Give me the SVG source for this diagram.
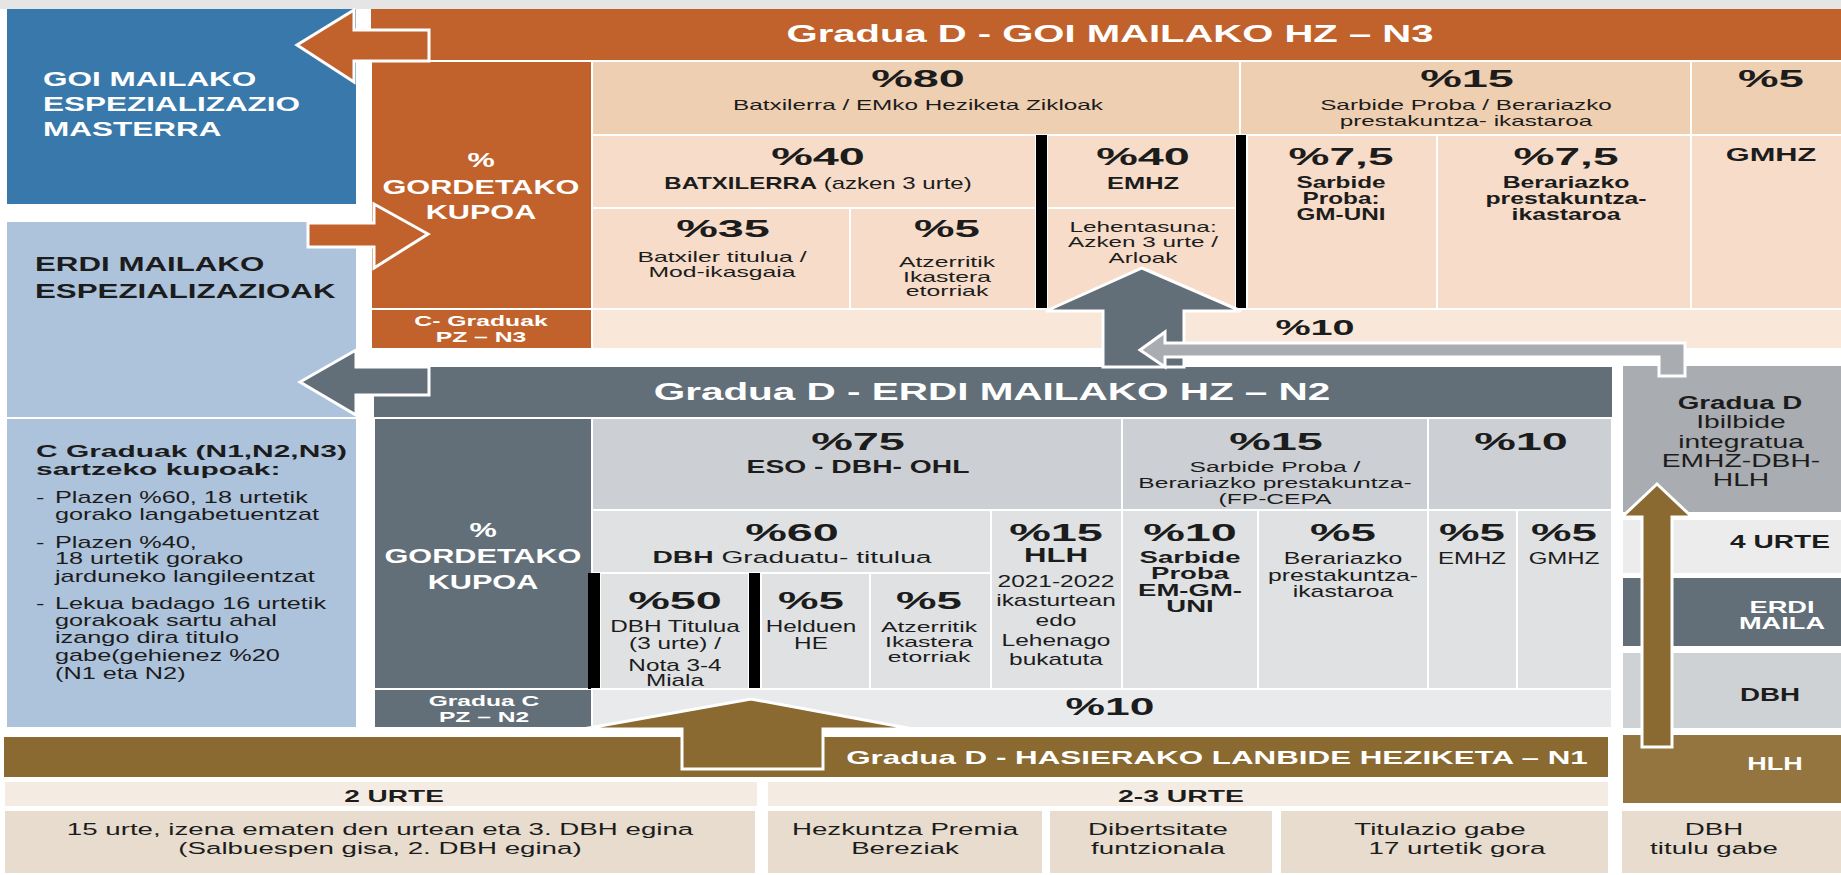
<svg xmlns="http://www.w3.org/2000/svg" width="1841" height="875" viewBox="0 0 1841 875">
<defs>
<style>
text{font-family:"Liberation Sans",Arial,Helvetica,sans-serif;fill:#1c1c1c}
.m{text-anchor:middle}
.b{font-weight:700}
.w{fill:#fff}
.pc{font-size:24px;font-weight:700}
.s15{font-size:15px}
.s16{font-size:16px}
.s17{font-size:17px}
.s18{font-size:18px}
.s19{font-size:19px}
.s20{font-size:20px}
.s21{font-size:21px}
.s22{font-size:22px}
.s23{font-size:23px}
.cell{stroke:#fff;stroke-width:2}
.arr{stroke:#fff;stroke-width:3;stroke-linejoin:miter}
.or{fill:#c1622c}
.pk1{fill:#efcfb1}
.pk2{fill:#f6dcc9}
.pk3{fill:#f9e7da}
.sl{fill:#626f78}
.gy1{fill:#ccd0d4}
.gy2{fill:#dfe1e3}
.gy3{fill:#e9eaeb}
.lg{fill:#a9acb0}
.br{fill:#8a6a31}
.be1{fill:#f4ece2}
.be2{fill:#e7dccd}
.bk{fill:#000}
</style>
</defs>
<rect width="1841" height="875" fill="#fff"/>
<rect width="1841" height="9" fill="#e5e5e5"/>

<!-- Left column -->
<g id="goi-masterra">
<rect x="7" y="9" width="349" height="195" fill="#3878aa"/>
<g transform="translate(43 0) scale(1.5 1)"><text class="b w s21" y="86.5">GOI MAILAKO</text><text class="b w s21" y="111.5">ESPEZIALIZAZIO</text><text class="b w s21" y="136.5">MASTERRA</text></g>
</g>
<g id="erdi-espezializazioak">
<rect x="7" y="222" width="349" height="195" fill="#adc3dc"/>
<g transform="translate(35 0) scale(1.49 1)"><text class="b s21" y="271.5">ERDI MAILAKO</text><text class="b s21" y="298.5">ESPEZIALIZAZIOAK</text></g>
</g>
<g id="c-graduak-kupoak">
<rect x="7" y="419" width="349" height="308" fill="#adc3dc"/>
<g transform="translate(36 0) scale(1.76 1)"><text class="b s17" y="457">C Graduak (N1,N2,N3)</text><text class="b s17" y="475">sartzeko kupoak:</text></g>
<g transform="translate(36 0) scale(1.58 1)"><text class="s16" y="503">-</text><text class="s16" y="548">-</text><text class="s16" y="609">-</text></g>
<g transform="translate(55 0) scale(1.58 1)">
<text class="s16" y="503">Plazen %60, 18 urtetik</text>
<text class="s16" y="520">gorako langabetuentzat</text>
<text class="s16" y="548">Plazen %40,</text>
<text class="s16" y="564">18 urtetik gorako</text>
<text class="s16" y="582">jarduneko langileentzat</text>
<text class="s16" y="609">Lekua badago 16 urtetik</text>
<text class="s16" y="626">gorakoak sartu ahal</text>
<text class="s16" y="643">izango dira titulo</text>
<text class="s16" y="661">gabe(gehienez %20</text>
<text class="s16" y="679">(N1 eta N2)</text>
</g>
</g>

<!-- N3 -->
<g id="n3-header">
<rect x="371" y="9" width="1470" height="51" class="or"/>
<text class="b w s23 m" transform="translate(1110 42) scale(1.74 1)">Gradua D - GOI MAILAKO HZ – N3</text>
</g>
<g id="n3-kupoa">
<rect x="371" y="61" width="221" height="248" class="or cell"/>
<g transform="translate(481 0) scale(1.46 1)"><text class="b w s21 m" y="167.5">%</text><text class="b w s21 m" y="194.5">GORDETAKO</text><text class="b w s21 m" y="219.5">KUPOA</text></g>
</g>
<g id="n3-c-graduak">
<rect x="371" y="309" width="221" height="40" class="or cell"/>
<g transform="translate(481 0) scale(1.65 1)"><text class="b w s15 m" y="326">C- Graduak</text><text class="b w s15 m" y="342">PZ – N3</text></g>
</g>
<g id="n3-80">
<rect x="592" y="61" width="648" height="74" class="pk1 cell"/>
<text class="pc m" transform="translate(918 87) scale(1.95 1)">%80</text>
<text class="s15 m" transform="translate(918 110) scale(1.62 1)">Batxilerra / EMko Heziketa Zikloak</text>
</g>
<g id="n3-15">
<rect x="1240" y="61" width="451" height="74" class="pk1 cell"/>
<text class="pc m" transform="translate(1467 87) scale(1.95 1)">%15</text>
<g transform="translate(1466 0) scale(1.62 1)"><text class="s15 m" y="110">Sarbide Proba / Berariazko</text><text class="s15 m" y="126">prestakuntza- ikastaroa</text></g>
</g>
<g id="n3-5">
<rect x="1691" y="61" width="152" height="74" class="pk1 cell"/>
<text class="pc m" transform="translate(1771 87) scale(1.9 1)">%5</text>
</g>
<g id="n3-40-batxilerra">
<rect x="592" y="135" width="444" height="73" class="pk2 cell"/>
<text class="pc m" transform="translate(818 165) scale(1.95 1)">%40</text>
<text class="s16 m" transform="translate(818 189) scale(1.5 1)"><tspan class="b">BATXILERRA</tspan> (azken 3 urte)</text>
</g>
<g id="n3-35">
<rect x="592" y="208" width="258" height="101" class="pk2 cell"/>
<text class="pc m" transform="translate(723 237) scale(1.95 1)">%35</text>
<g transform="translate(722 0) scale(1.65 1)"><text class="s15 m" y="262">Batxiler titulua /</text><text class="s15 m" y="277">Mod-ikasgaia</text></g>
</g>
<g id="n3-5-atzerritik">
<rect x="850" y="208" width="186" height="101" class="pk2 cell"/>
<text class="pc m" transform="translate(947 237) scale(1.9 1)">%5</text>
<g transform="translate(947 0) scale(1.65 1)"><text class="s15 m" y="267">Atzerritik</text><text class="s15 m" y="282">Ikastera</text><text class="s15 m" y="296">etorriak</text></g>
</g>
<g id="n3-40-emhz">
<rect x="1047" y="135" width="189" height="73" class="pk2 cell"/>
<rect x="1047" y="208" width="189" height="101" class="pk2 cell"/>
<rect x="1036" y="135" width="11" height="175" class="bk"/>
<rect x="1236" y="135" width="11" height="175" class="bk"/>
<text class="pc m" transform="translate(1143 165) scale(1.95 1)">%40</text>
<text class="b s16 m" transform="translate(1143 189) scale(1.59 1)">EMHZ</text>
<g transform="translate(1143 0) scale(1.62 1)"><text class="s15 m" y="232">Lehentasuna:</text><text class="s15 m" y="247">Azken 3 urte /</text><text class="s15 m" y="263">Arloak</text></g>
</g>
<g id="n3-75-sarbide">
<rect x="1247" y="135" width="190" height="174" class="pk2 cell"/>
<text class="pc m" transform="translate(1341 165) scale(1.92 1)">%7,5</text>
<g transform="translate(1341 0) scale(1.52 1)"><text class="b s16 m" y="188">Sarbide</text><text class="b s16 m" y="204">Proba:</text><text class="b s16 m" y="220">GM-UNI</text></g>
</g>
<g id="n3-75-berariazko">
<rect x="1437" y="135" width="254" height="174" class="pk2 cell"/>
<text class="pc m" transform="translate(1566 165) scale(1.92 1)">%7,5</text>
<g transform="translate(1566 0) scale(1.55 1)"><text class="b s16 m" y="188">Berariazko</text><text class="b s16 m" y="204">prestakuntza-</text><text class="b s16 m" y="220">ikastaroa</text></g>
</g>
<g id="n3-gmhz">
<rect x="1691" y="135" width="152" height="174" class="pk2 cell"/>
<text class="b s19 m" transform="translate(1771 161) scale(1.62 1)">GMHZ</text>
</g>
<g id="n3-10">
<rect x="592" y="309" width="1251" height="40" class="pk3 cell"/>
<text class="b s22 m" transform="translate(1315 335) scale(1.8 1)">%10</text>
</g>

<!-- N2 -->
<g id="n2-header">
<rect x="374" y="367" width="1238" height="51" class="sl"/>
<text class="b w s23 m" transform="translate(992 400) scale(1.76 1)">Gradua D - ERDI MAILAKO HZ – N2</text>
</g>
<g id="n2-kupoa">
<rect x="374" y="418" width="218" height="271" class="sl cell"/>
<g transform="translate(483 0) scale(1.46 1)"><text class="b w s21 m" y="537.5">%</text><text class="b w s21 m" y="563.5">GORDETAKO</text><text class="b w s21 m" y="589.5">KUPOA</text></g>
</g>
<g id="n2-gradua-c">
<rect x="374" y="689" width="218" height="39" class="sl cell"/>
<g transform="translate(484 0) scale(1.64 1)"><text class="b w s15 m" y="706.5">Gradua C</text><text class="b w s15 m" y="722.5">PZ – N2</text></g>
</g>
<g id="n2-75">
<rect x="592" y="418" width="530" height="92" class="gy1 cell"/>
<text class="pc m" transform="translate(858 450) scale(1.95 1)">%75</text>
<text class="b s18 m" transform="translate(858 473) scale(1.57 1)">ESO - DBH- OHL</text>
</g>
<g id="n2-15">
<rect x="1122" y="418" width="306" height="92" class="gy1 cell"/>
<text class="pc m" transform="translate(1276 450) scale(1.95 1)">%15</text>
<g transform="translate(1275 0) scale(1.64 1)"><text class="s15 m" y="472">Sarbide Proba /</text><text class="s15 m" y="488">Berariazko prestakuntza-</text><text class="s15 m" y="504">(FP-CEPA</text></g>
</g>
<g id="n2-10">
<rect x="1428" y="418" width="184" height="92" class="gy1 cell"/>
<text class="pc m" transform="translate(1521 450) scale(1.95 1)">%10</text>
</g>
<g id="n2-60">
<rect x="592" y="510" width="399" height="63" class="gy2 cell"/>
<text class="pc m" transform="translate(792 541) scale(1.95 1)">%60</text>
<text class="s17 m" transform="translate(792 563) scale(1.66 1)"><tspan class="b">DBH</tspan> Graduatu- titulua</text>
</g>
<g id="n2-50">
<rect x="600" y="573" width="149" height="116" class="gy2 cell"/>
<rect x="588" y="573" width="12" height="116" class="bk"/>
<rect x="749" y="573" width="12" height="116" class="bk"/>
<text class="pc m" transform="translate(675 609) scale(1.95 1)">%50</text>
<g transform="translate(675 0) scale(1.52 1)"><text class="s16 m" y="632">DBH Titulua</text><text class="s16 m" y="649">(3 urte) /</text><text class="s16 m" y="671">Nota 3-4</text><text class="s16 m" y="686">Miala</text></g>
</g>
<g id="n2-5-helduen">
<rect x="761" y="573" width="109" height="116" class="gy2 cell"/>
<text class="pc m" transform="translate(811 609) scale(1.9 1)">%5</text>
<g transform="translate(811 0) scale(1.52 1)"><text class="s16 m" y="632">Helduen</text><text class="s16 m" y="649">HE</text></g>
</g>
<g id="n2-5-atzerritik">
<rect x="870" y="573" width="121" height="116" class="gy2 cell"/>
<text class="pc m" transform="translate(929 609) scale(1.9 1)">%5</text>
<g transform="translate(929 0) scale(1.65 1)"><text class="s15 m" y="632">Atzerritik</text><text class="s15 m" y="647">Ikastera</text><text class="s15 m" y="662">etorriak</text></g>
</g>
<g id="n2-15-hlh">
<rect x="991" y="510" width="131" height="179" class="gy2 cell"/>
<text class="pc m" transform="translate(1056 541) scale(1.95 1)">%15</text>
<text class="b s20 m" transform="translate(1056 562) scale(1.56 1)">HLH</text>
<g transform="translate(1056 0) scale(1.53 1)"><text class="s16 m" y="587">2021-2022</text><text class="s16 m" y="606">ikasturtean</text><text class="s16 m" y="626">edo</text><text class="s16 m" y="646">Lehenago</text><text class="s16 m" y="665">bukatuta</text></g>
</g>
<g id="n2-10-sarbide">
<rect x="1122" y="510" width="136" height="179" class="gy2 cell"/>
<text class="pc m" transform="translate(1190 541) scale(1.95 1)">%10</text>
<g transform="translate(1190 0) scale(1.72 1)"><text class="b s16 m" y="563">Sarbide</text><text class="b s16 m" y="579">Proba</text><text class="b s16 m" y="596">EM-GM-</text><text class="b s16 m" y="612">UNI</text></g>
</g>
<g id="n2-5-berariazko">
<rect x="1258" y="510" width="170" height="179" class="gy2 cell"/>
<text class="pc m" transform="translate(1343 541) scale(1.9 1)">%5</text>
<g transform="translate(1343 0) scale(1.55 1)"><text class="s16 m" y="564">Berariazko</text><text class="s16 m" y="581">prestakuntza-</text><text class="s16 m" y="597">ikastaroa</text></g>
</g>
<g id="n2-5-emhz">
<rect x="1428" y="510" width="89" height="179" class="gy2 cell"/>
<text class="pc m" transform="translate(1472 541) scale(1.9 1)">%5</text>
<text class="s16 m" transform="translate(1472 564) scale(1.5 1)">EMHZ</text>
</g>
<g id="n2-5-gmhz">
<rect x="1517" y="510" width="95" height="179" class="gy2 cell"/>
<text class="pc m" transform="translate(1564 541) scale(1.9 1)">%5</text>
<text class="s16 m" transform="translate(1564 564) scale(1.5 1)">GMHZ</text>
</g>
<g id="n2-10-bottom">
<rect x="592" y="689" width="1020" height="39" class="gy3 cell"/>
<text class="pc m" transform="translate(1110 715) scale(1.85 1)">%10</text>
</g>

<!-- Right column -->
<g id="ibilbide-integratua">
<rect x="1623" y="366" width="218" height="146" class="lg"/>
<text class="b s18 m" transform="translate(1740 409) scale(1.54 1)">Gradua D</text>
<g transform="translate(1741 0) scale(1.57 1)"><text class="s18 m" y="428">Ibilbide</text><text class="s18 m" y="448">integratua</text><text class="s18 m" y="467">EMHZ-DBH-</text><text class="s18 m" y="486">HLH</text></g>
</g>
<g id="urte-4">
<rect x="1623" y="520" width="218" height="53" fill="#ececec"/>
<text class="b s18 m" transform="translate(1780 548) scale(1.56 1)">4 URTE</text>
</g>
<g id="erdi-maila">
<rect x="1623" y="578" width="218" height="68" class="sl"/>
<g transform="translate(1782 0) scale(1.6 1)"><text class="b w s17 m" y="613">ERDI</text><text class="b w s17 m" y="629">MAILA</text></g>
</g>
<g id="dbh">
<rect x="1623" y="653" width="218" height="75" fill="#cfd2d5"/>
<text class="b s19 m" transform="translate(1770 701) scale(1.46 1)">DBH</text>
</g>
<g id="hlh">
<rect x="1623" y="735" width="218" height="68" fill="#94743f"/>
<text class="b w s18 m" transform="translate(1775 770) scale(1.5 1)">HLH</text>
</g>

<!-- N1 -->
<g id="n1-header">
<rect x="4" y="737" width="1604" height="40" class="br"/>
<text class="b w s19 m" transform="translate(1217 764) scale(1.65 1)">Gradua D - HASIERAKO LANBIDE HEZIKETA – N1</text>
</g>
<g id="urte-2">
<rect x="5" y="782" width="752" height="24" class="be1"/>
<text class="b s17 m" transform="translate(394 802) scale(1.65 1)">2 URTE</text>
</g>
<g id="urte-2-3">
<rect x="768" y="782" width="840" height="24" class="be1"/>
<text class="b s17 m" transform="translate(1181 802) scale(1.67 1)">2-3 URTE</text>
</g>
<g id="adina-15">
<rect x="5" y="811" width="750" height="62" class="be2"/>
<g transform="translate(380 0) scale(1.63 1)"><text class="s17 m" y="835">15 urte, izena ematen den urtean eta 3. DBH egina</text><text class="s17 m" y="854">(Salbuespen gisa, 2. DBH egina)</text></g>
</g>
<g id="hezkuntza-premia">
<rect x="768" y="811" width="274" height="62" class="be2"/>
<g transform="translate(905 0) scale(1.63 1)"><text class="s17 m" y="835">Hezkuntza Premia</text><text class="s17 m" y="854">Bereziak</text></g>
</g>
<g id="dibertsitate">
<rect x="1050" y="811" width="222" height="62" class="be2"/>
<g transform="translate(1158 0) scale(1.63 1)"><text class="s17 m" y="835">Dibertsitate</text><text class="s17 m" y="854">funtzionala</text></g>
</g>
<g id="titulazio-gabe">
<rect x="1281" y="811" width="327" height="62" class="be2"/>
<text class="s17 m" transform="translate(1440 835) scale(1.63 1)">Titulazio gabe</text>
<text class="s17 m" transform="translate(1457 854) scale(1.63 1)">17 urtetik gora</text>
</g>
<g id="dbh-titulu-gabe">
<rect x="1622" y="811" width="219" height="62" class="be2"/>
<g transform="translate(1714 0) scale(1.63 1)"><text class="s17 m" y="835">DBH</text><text class="s17 m" y="854">titulu gabe</text></g>
</g>

<!-- Connectors -->
<g id="connectors">
<polygon class="arr or" points="297,45 354,10 354,30 429,30 429,61 354,61 354,82"/>
<polygon class="arr or" points="308,223 374,223 374,204 428,234 374,268 374,247 308,247"/>
<polygon class="arr sl" points="300,382 356,350 356,367 429,367 429,395 356,395 356,415"/>
<polygon class="arr sl" points="1142,268 1241,311 1184,311 1184,367 1103,367 1103,311 1046,311"/>
<polygon class="arr lg" points="1140,350 1165,332 1165,343 1685,343 1685,376 1659,376 1659,357 1165,357 1165,367"/>
<polygon class="arr br" points="751,699 913,729 823,729 823,769 682,769 682,729 583,729"/>
<polygon class="arr br" points="1657,484 1692,517 1672,517 1672,747 1642,747 1642,517 1622,517"/>
</g>
</svg>
